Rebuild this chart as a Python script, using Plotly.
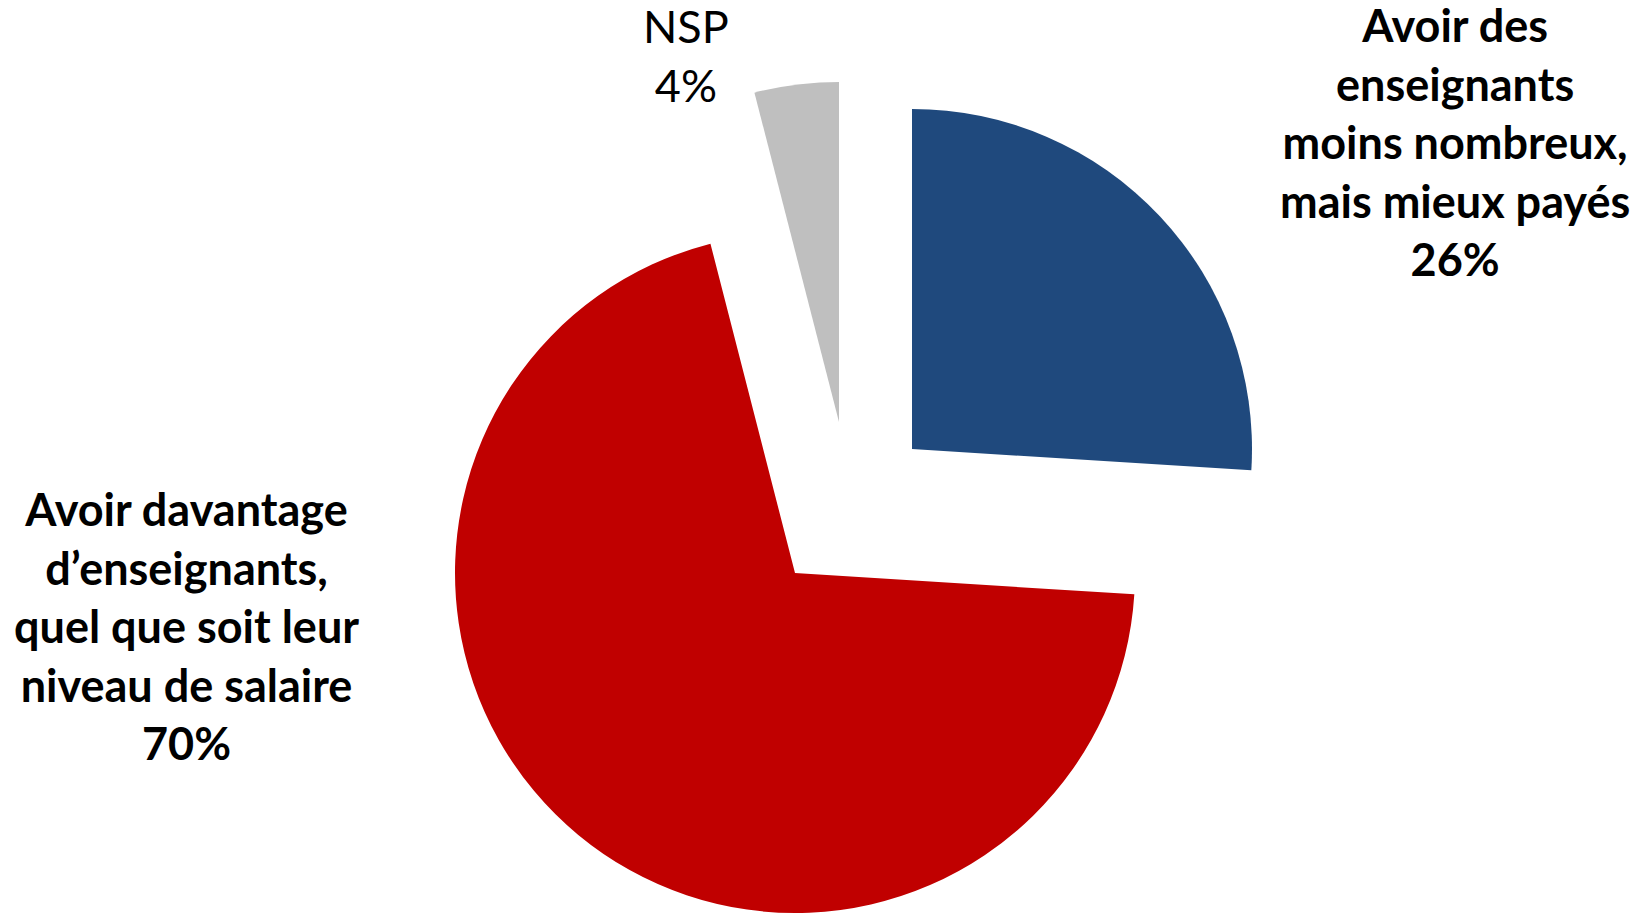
import plotly.graph_objects as go

# Data
labels = ["Avoir des enseignants moins nombreux, mais mieux payés",
          "Avoir davantage d’enseignants, quel que soit leur niveau de salaire",
          "NSP"]
label_text = ["Avoir des<br>enseignants<br>moins nombreux,<br>mais mieux payés",
              "Avoir davantage<br>d’enseignants,<br>quel que soit leur<br>niveau de salaire",
              "NSP"]
values = [26, 70, 4]
colors = ["#1F497D", "#C00000", "#BFBFBF"]
bold = [True, True, False]

W, H = 1643, 914
R = 340
OFF = 8  # page body margin
# pixel position of each exploded slice's vertex (screen)
centres = [(912, 449), (795, 573), (839, 422)]
# label block centres (screen pixels)
label_pos = [(1455, 142), (186, 626), (686, 55)]


def clamp(v):
    return max(0.0, min(1.0, v))


fig = go.Figure()

# one pie per slice so each one can be shifted out on its own
for i in range(len(values)):
    cx, cy = centres[i][0] - OFF, centres[i][1] - OFF
    slice_colors = ["rgba(0,0,0,0)"] * len(values)
    slice_colors[i] = colors[i]
    fig.add_trace(go.Pie(
        labels=labels,
        values=values,
        sort=False,
        direction="clockwise",
        rotation=0,
        marker=dict(colors=slice_colors, line=dict(width=0)),
        textinfo="none",
        hoverinfo="skip",
        showlegend=False,
        domain=dict(x=[clamp((cx - R) / W), clamp((cx + R) / W)],
                    y=[clamp(1 - (cy + R) / H), clamp(1 - (cy - R) / H)]),
    ))

for i in range(len(values)):
    txt = f"{label_text[i]}<br>{values[i]}%"
    if bold[i]:
        txt = "<b>" + txt.replace("<br>", "</b><br><b>") + "</b>"
    x, y = label_pos[i]
    fig.add_annotation(
        x=(x - OFF) / W, y=1 - (y - OFF) / H, xref="paper", yref="paper",
        text=txt, showarrow=False, align="center",
        xanchor="center", yanchor="middle",
        font=dict(family="Lato, sans-serif", size=45, color="black"),
    )

fig.update_layout(
    width=W, height=H,
    margin=dict(l=0, r=0, t=0, b=0),
    paper_bgcolor="white",
    plot_bgcolor="white",
)

fig.write_html("out.html")
